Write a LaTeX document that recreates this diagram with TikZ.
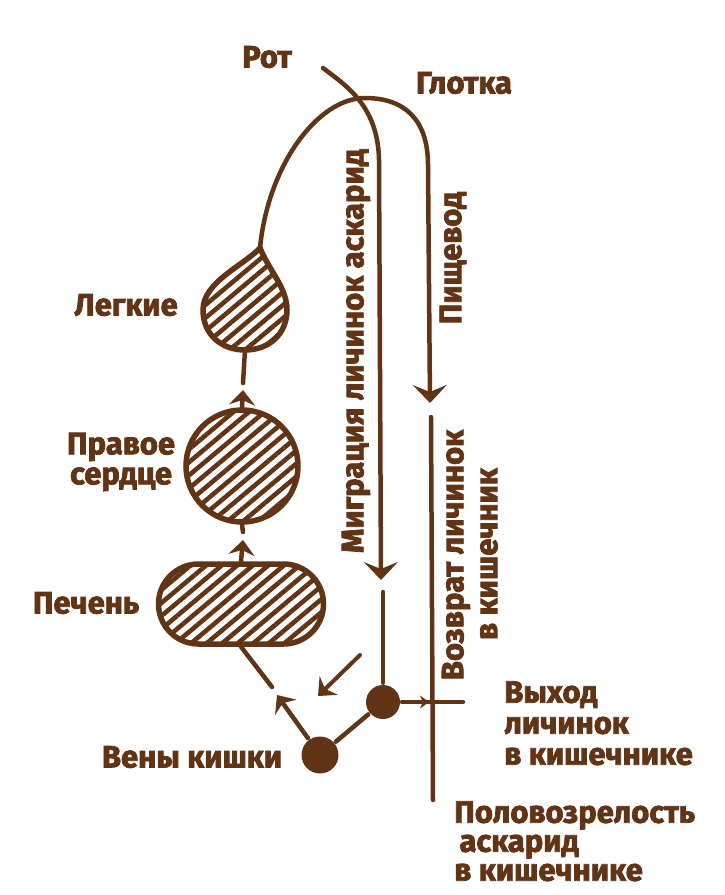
\documentclass[tikz,border=0pt]{standalone}
\usepackage{fontspec}
\setmainfont{Fira Sans}[BoldFeatures={FakeBold=2.5}]
\usetikzlibrary{arrows.meta,patterns.meta}
\definecolor{ink}{RGB}{98,52,22}
\begin{document}
\begin{tikzpicture}[x=1pt,y=-1pt,
  line width=4.5pt, draw=ink, line cap=round,
  lbl/.style={font=\bfseries\fontsize{31}{31}\selectfont, text=ink, inner sep=0pt},
  organ/.style={draw=ink, line width=5.5pt, pattern={Lines[angle=40,distance=10pt,line width=4.6pt]}, pattern color=ink, inner sep=0pt},
  arr/.style={-{Stealth[length=18pt,width=34pt,inset=7pt]}},
  sarr/.style={-{Stealth[length=15pt,width=26pt,inset=5pt]}},
  dot/.style={circle, fill=ink, draw=none, inner sep=0pt, minimum size=#1}
]
\useasboundingbox (0,0) rectangle (724,895);
\fill[white] (0,0) rectangle (724,895);

% labels
\node[lbl] (rot) at (267,57) {Рот};
\node[lbl] (glotka) at (464,83) {Глотка};
\node[lbl, anchor=east] (legkie) at (180,305) {Легкие};
\node[lbl, align=center, font=\bfseries\fontsize{31}{30}\selectfont] (serdce) at (121,462) {Правое\\сердце};
\node[lbl] (pechen) at (86,603) {Печень};
\node[lbl] (veny) at (192,757) {Вены кишки};
\node[lbl, rotate=90] (migr) at (356,351) {Миграция личинок аскарид};
\node[lbl, rotate=90] (pishch) at (453,258) {Пищевод};
\node[lbl, rotate=90] (vozvr) at (456,555) {Возврат личинок};
\node[lbl, rotate=90] (vkish) at (489,554) {в кишечник};
\node[lbl, align=left, anchor=north west, font=\bfseries\fontsize{31}{31}\selectfont] (vyhod) at (502,679) {Выход\\личинок\\в кишечнике};
\node[lbl, align=left, anchor=north west, font=\bfseries\fontsize{31}{29}\selectfont] (polovo) at (452,799) {Половозрелость\\\,аскарид\\в кишечнике};

% organs
\coordinate (lungtip) at (260,248);
\coordinate (lungbot) at (245,350);
\coordinate (lungstem) at (243,383);
\filldraw[organ] (lungtip) .. controls (243,266) and (203,282) .. (203,310)
  .. controls (203,335) and (222,350) .. (lungbot)
  .. controls (270,350) and (287,333) .. (287,310)
  .. controls (287,288) and (270,272) .. (lungtip) -- cycle;
\draw (lungbot) -- (lungstem);

\node[organ, circle, minimum size=112pt] (heart) at (242,466) {};
\node[organ, rectangle, rounded corners=40pt, minimum width=165pt, minimum height=80pt] (liver) at (241,604) {};

\coordinate (hearttip) at (243,390);
\coordinate (heartstem) at (243,532);
\coordinate (livertip) at (243,540);
\draw[sarr] (heart.north) -- (hearttip);
\draw (heart.south) -- (heartstem);
\draw[sarr] (liver.north) -- (livertip);

% upper routes
\coordinate (mouth) at (323,68);
\coordinate (migrtip) at (381,580);
\coordinate (esotip) at (430,403);
\draw[arr] (lungtip) .. controls (268,165) and (318,98) .. (365,98)
  .. controls (405,98) and (428,120) .. (428,165) -- (esotip);
\draw[arr] (mouth) .. controls (345,85) and (378,105) .. (379,160) -- (migrtip);

% lower part
\node[dot=34pt] (n2) at (383,702) {};
\node[dot=37pt] (vein) at (320,755) {};
\coordinate (mstem) at (383,592);
\coordinate (rtop) at (431,417);
\coordinate (rbot) at (433,800);
\coordinate (hend) at (463,702);
\coordinate (htip) at (429,702);
\coordinate (vtip) at (277,695);
\coordinate (livline) at (272,687);
\coordinate (dstart) at (360,655);
\coordinate (dtip) at (318,696);

\draw (n2) -- (mstem);
\draw (rtop) -- (rbot);
\draw (n2) -- (hend);
\draw[-{Stealth[length=9pt,width=13pt]}] (n2) -- (htip);
\draw (vein) -- (n2);
\draw[sarr] (vein) -- (vtip);
\draw (liver.south) -- (livline);
\draw[sarr, line width=4pt] (dstart) -- (dtip);
\end{tikzpicture}
\end{document}
